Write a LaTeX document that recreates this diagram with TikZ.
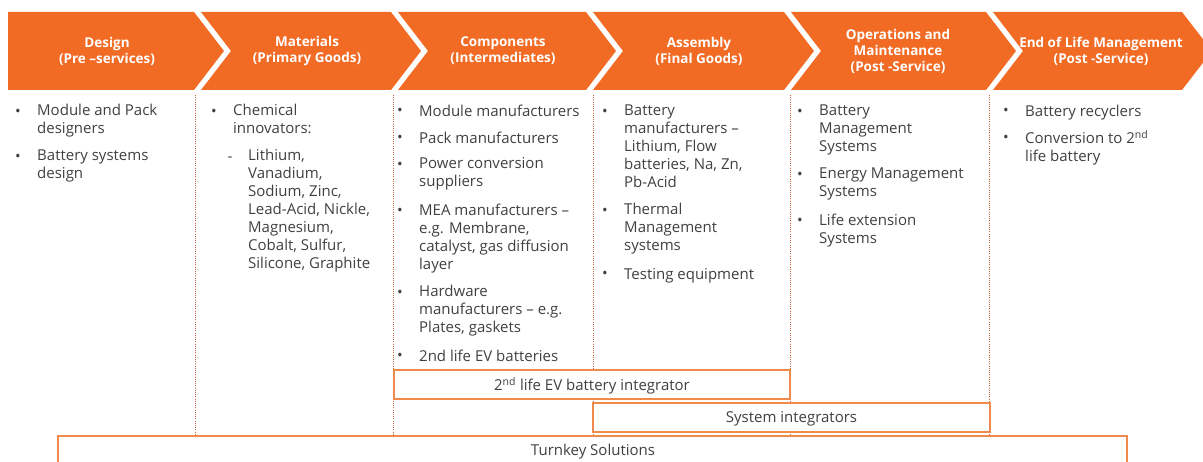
\documentclass[tikz,border=0pt]{standalone}
\usepackage{fontspec}
\setmainfont{Open Sans}
\definecolor{chevorange}{HTML}{F26B24}
\definecolor{boxorange}{HTML}{F08A4B}
\definecolor{sepline}{HTML}{C8643A}
\definecolor{bodytext}{HTML}{404040}
\tikzset{
  chev/.style={fill=chevorange, draw=none},
  head/.style={text=white, font=\fontsize{13.5}{16}\selectfont\bfseries, align=center, inner sep=0pt},
  item/.style={anchor=north west, yshift=12.6pt, align=left, inner sep=0pt, text=bodytext,
    font=\fontsize{15}{18}\selectfont, execute at begin node=\strut},
  dot/.style={anchor=base, inner sep=0pt, text=bodytext, font=\fontsize{15}{18}\selectfont},
  sep/.style={draw=sepline, line width=1pt, dash pattern=on 1pt off 1.2pt},
  band/.style={draw=boxorange, line width=1.8pt, fill=white},
  bandtext/.style={inner sep=0pt, text=bodytext, font=\fontsize{15}{18}\selectfont}
}
\begin{document}
\begin{tikzpicture}[x=1pt,y=-1pt]
 \useasboundingbox (0,0) rectangle (1203,462);
 \clip (0,0) rectangle (1203,462);
 % chevrons
 \fill[chev] (8,12)--(194,12)--(224,51)--(194,90)--(8,90)--cycle;
 \fill[chev] (201,12)--(391,12)--(421,51)--(391,90)--(201,90)--(231,51)--cycle;
 \fill[chev] (398,12)--(586,12)--(616,51)--(586,90)--(398,90)--(428,51)--cycle;
 \fill[chev] (593,12)--(784,12)--(814,51)--(784,90)--(593,90)--(623,51)--cycle;
 \fill[chev] (791,12)--(986,12)--(1016,51)--(986,90)--(791,90)--(821,51)--cycle;
 \fill[chev] (993,12)--(1182,12)--(1212,51)--(1182,90)--(993,90)--(1023,51)--cycle;
 \node[head] (hDesign) at (107,51) {Design\\(Pre –services)};
 \node[head] (hMaterials) at (307,51) {Materials\\(Primary Goods)};
 \node[head] (hComponents) at (503,51) {Components\\(Intermediates)};
 \node[head] (hAssembly) at (699,51) {Assembly\\(Final Goods)};
 \node[head] (hOperations) at (898,51) {Operations and\\Maintenance\\(Post -Service)};
 \node[head] (hEnd) at (1101,51) {End of Life Management\\(Post -Service)};
 % column separators
 \draw[sep] (195,95)--(195,436);
 \draw[sep] (393,95)--(393,436);
 \draw[sep] (593,95)--(593,436);
 \draw[sep] (790,95)--(790,436);
 \draw[sep] (989,95)--(989,436);
 % design
 \node[dot] (design1b) at (18,117) {\textbullet};
 \node[item] (design1) at (37,117) {Module and Pack\\designers};
 \node[dot] (design2b) at (18,162) {\textbullet};
 \node[item] (design2) at (37,162) {Battery systems\\design};
 % materials
 \node[dot] (mat1b) at (214,117) {\textbullet};
 \node[item] (mat1) at (233,117) {Chemical\\innovators:};
 \node[dot] (mat2b) at (230,162) {-};
 \node[item] (mat2) at (248,162) {Lithium,\\Vanadium,\\Sodium, Zinc,\\Lead-Acid, Nickle,\\Magnesium,\\Cobalt, Sulfur,\\Silicone, Graphite};
 % components
 \node[dot] (comp1b) at (400,116) {\textbullet};
 \node[item] (comp1) at (419,116) {Module manufacturers};
 \node[dot] (comp2b) at (400,143) {\textbullet};
 \node[item] (comp2) at (419,143) {Pack manufacturers};
 \node[dot] (comp3b) at (400,170) {\textbullet};
 \node[item] (comp3) at (419,170) {Power conversion\\suppliers};
 \node[dot] (comp4b) at (400,216) {\textbullet};
 \node[item] (comp4) at (419,216) {MEA manufacturers –\\e.g. Membrane,\\catalyst, gas diffusion\\layer};
 \node[dot] (comp5b) at (400,298) {\textbullet};
 \node[item] (comp5) at (419,298) {Hardware\\manufacturers – e.g.\\Plates, gaskets};
 \node[dot] (comp6b) at (400,361) {\textbullet};
 \node[item] (comp6) at (419,361) {2nd life EV batteries};
 % assembly
 \node[dot] (asm1b) at (605,117) {\textbullet};
 \node[item] (asm1) at (624,117) {Battery\\manufacturers –\\Lithium, Flow\\batteries, Na, Zn,\\Pb-Acid};
 \node[dot] (asm2b) at (605,216) {\textbullet};
 \node[item] (asm2) at (624,216) {Thermal\\Management\\systems};
 \node[dot] (asm3b) at (605,279) {\textbullet};
 \node[item] (asm3) at (624,279) {Testing equipment};
 % operations
 \node[dot] (ops1b) at (800,117) {\textbullet};
 \node[item] (ops1) at (819,117) {Battery\\Management\\Systems};
 \node[dot] (ops2b) at (800,180) {\textbullet};
 \node[item] (ops2) at (819,180) {Energy Management\\Systems};
 \node[dot] (ops3b) at (800,226) {\textbullet};
 \node[item] (ops3) at (819,226) {Life extension\\Systems};
 % end of life
 \node[dot] (eol1b) at (1006,116) {\textbullet};
 \node[item] (eol1) at (1025,116) {Battery recyclers};
 \node[dot] (eol2b) at (1006,143) {\textbullet};
 \node[item] (eol2) at (1025,143) {Conversion to 2\textsuperscript{nd}\\life battery};
 % integrator bands
 \draw[band] (394,370) rectangle (790,399);
 \node[bandtext] (lifeInt) at (592,385.5) {2\textsuperscript{nd} life EV battery integrator};
 \draw[band] (593,403) rectangle (990,432);
 \node[bandtext] (sysInt) at (791.5,419) {System integrators};
 \draw[band] (58,436) rectangle (1127,490);
 \node[bandtext] (turnkey) at (593,451.5) {Turnkey Solutions};
\end{tikzpicture}
\end{document}
